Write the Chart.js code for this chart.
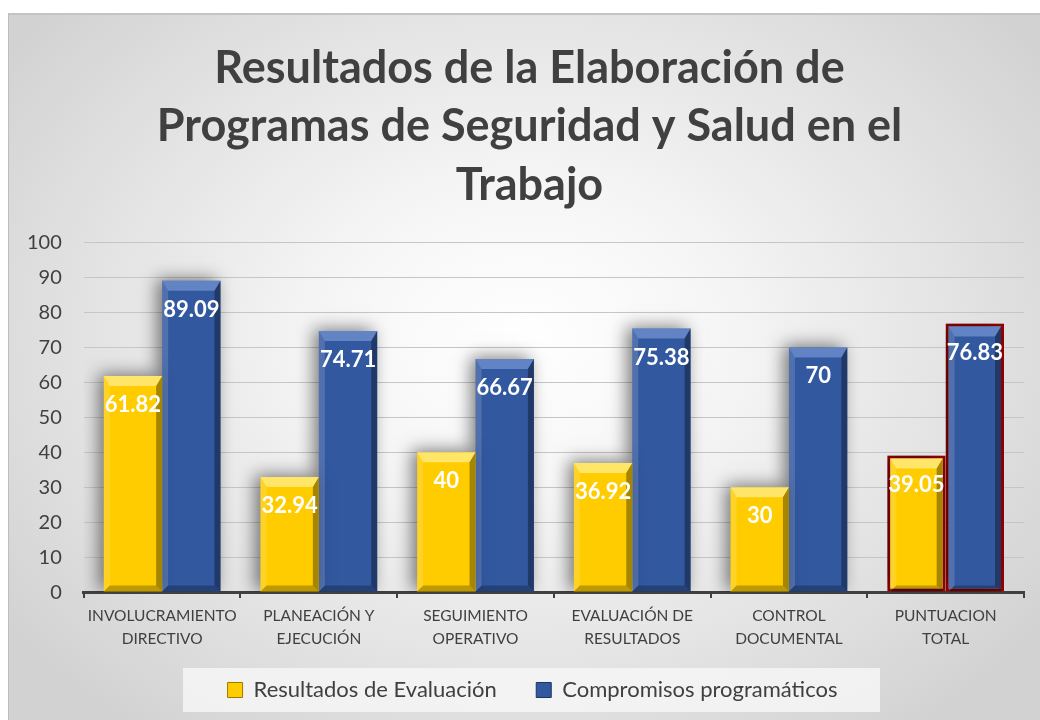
<!DOCTYPE html>
<html>
<head>
<meta charset="utf-8">
<script src="https://cdn.jsdelivr.net/npm/chart.js@4.4.0/dist/chart.umd.min.js"></script>
<style>
	html, body { margin: 0; padding: 0; background: #ffffff; }
	#frame {
		position: absolute;
		left: 8px;
		top: 13px;
		width: 1032px;
		height: 707px;
		border-left: 1px solid #bdbdbd;
		border-top: 2px solid #c4c4c4;
		box-sizing: border-box;
		background: radial-gradient(ellipse 62% 70% at 50% 46%, #ffffff 0%, #f6f6f6 30%, #e2e2e2 70%, #d2d2d2 100%);
	}
	#wrap { position: absolute; left: 0; top: 0; width: 1031px; height: 705px; }
</style>
</head>
<body>
<div id="frame"><div id="wrap"><canvas id="chart"></canvas></div></div>
<script>
const categories = [
	['INVOLUCRAMIENTO', 'DIRECTIVO'],
	['PLANEACIÓN Y', 'EJECUCIÓN'],
	['SEGUIMIENTO', 'OPERATIVO'],
	['EVALUACIÓN DE', 'RESULTADOS'],
	['CONTROL', 'DOCUMENTAL'],
	['PUNTUACION', 'TOTAL'],
]
const seriesNames = ['Resultados de Evaluación', 'Compromisos programáticos']
const resultados = [61.82, 32.94, 40, 36.92, 30, 39.05]
const compromisos = [89.09, 74.71, 66.67, 75.38, 70, 76.83]
const yTicks = [0, 10, 20, 30, 40, 50, 60, 70, 80, 90, 100]

const FONT = 'Lato, "Open Sans", sans-serif'
const TEXT = '#404040'
const YELLOW = '#FFCC00'
const BLUE = '#3258A0'
const RED = '#A00000'
const LEGEND_PAD = 23

// red outline only on the total group
const borderWidths = categories.map((c, i) => (i === categories.length - 1 ? 3 : 0))

// soft shadow behind the bars
const barShadow = {
	id: 'barShadow',
	beforeDatasetDraw(chart) {
		const ctx = chart.ctx
		ctx.save()
		ctx.shadowColor = 'rgba(0, 0, 0, 0.5)'
		ctx.shadowBlur = 16
		ctx.shadowOffsetX = -5
		ctx.shadowOffsetY = -2
	},
	afterDatasetDraw(chart) {
		chart.ctx.restore()
	},
}

// bevel edges + value labels
const bevelLabels = {
	id: 'bevelLabels',
	afterDatasetsDraw(chart) {
		const ctx = chart.ctx
		chart.data.datasets.forEach((ds, di) => {
			const meta = chart.getDatasetMeta(di)
			meta.data.forEach((bar, i) => {
				const bw = borderWidths[i]
				const l = bar.x - bar.width / 2 + bw
				const r = bar.x + bar.width / 2 - bw
				const t = bar.y + bw
				const b = bar.base
				const s = 6
				const tb = 10
				ctx.save()
				// top bevel
				ctx.fillStyle = di === 0 ? 'rgba(255, 250, 190, 0.55)' : 'rgba(140, 170, 225, 0.55)'
				ctx.beginPath()
				ctx.moveTo(l, t); ctx.lineTo(r, t); ctx.lineTo(r - s, t + tb); ctx.lineTo(l + s, t + tb); ctx.closePath()
				ctx.fill()
				// left bevel
				ctx.fillStyle = 'rgba(255, 255, 255, 0.15)'
				ctx.beginPath()
				ctx.moveTo(l, t); ctx.lineTo(l + s, t + tb); ctx.lineTo(l + s, b - s); ctx.lineTo(l, b); ctx.closePath()
				ctx.fill()
				// right bevel
				ctx.fillStyle = 'rgba(0, 0, 0, 0.35)'
				ctx.beginPath()
				ctx.moveTo(r, t); ctx.lineTo(r - s, t + tb); ctx.lineTo(r - s, b - s); ctx.lineTo(r, b); ctx.closePath()
				ctx.fill()
				// bottom bevel
				ctx.fillStyle = 'rgba(0, 0, 0, 0.25)'
				ctx.beginPath()
				ctx.moveTo(l, b); ctx.lineTo(l + s, b - s); ctx.lineTo(r - s, b - s); ctx.lineTo(r, b); ctx.closePath()
				ctx.fill()
				// value
				ctx.fillStyle = '#ffffff'
				ctx.font = 'bold 22px ' + FONT
				ctx.textAlign = 'center'
				ctx.textBaseline = 'middle'
				ctx.fillText(String(ds.data[i]), bar.x, bar.y + 29)
				ctx.restore()
			})
		})
	},
}

// light panel behind the legend, title and legend nudged right like the original
const legendPanel = {
	id: 'legendPanel',
	afterLayout(chart) {
		const lg = chart.legend
		if (lg) {
			lg.left += 18
			lg.right += 18
		}
		const tb = chart.titleBlock
		if (tb) {
			tb.left += 15
			tb.right += 15
		}
	},
	beforeDraw(chart) {
		const lg = chart.legend
		if (!lg) return
		const ctx = chart.ctx
		ctx.save()
		ctx.fillStyle = 'rgba(246, 246, 246, 0.85)'
		ctx.fillRect(174, lg.top + LEGEND_PAD + 11 - 22, 697, 44)
		ctx.restore()
	},
}

new Chart(document.getElementById('chart').getContext('2d'), {
	type: 'bar',
	data: {
		labels: categories,
		datasets: [
			{
				label: seriesNames[0],
				data: resultados,
				backgroundColor: YELLOW,
				borderColor: RED,
				borderWidth: borderWidths,
				borderSkipped: false,
				categoryPercentage: 0.745,
				barPercentage: 1,
			},
			{
				label: seriesNames[1],
				data: compromisos,
				backgroundColor: BLUE,
				borderColor: RED,
				borderWidth: borderWidths,
				borderSkipped: false,
				categoryPercentage: 0.745,
				barPercentage: 1,
			},
		],
	},
	options: {
		responsive: true,
		maintainAspectRatio: false,
		animation: false,
		layout: {
			padding: { left: -4, right: 16, top: 0, bottom: 9 },
		},
		plugins: {
			title: {
				display: true,
				text: ['Resultados de la Elaboración de', 'Programas de Seguridad y Salud en el', 'Trabajo'],
				color: TEXT,
				font: { family: FONT, size: 45, weight: 'bold', lineHeight: 1.3 },
				padding: { top: 24, bottom: 28 },
			},
			legend: {
				position: 'bottom',
				labels: {
					color: TEXT,
					font: { family: FONT, size: 22 },
					boxWidth: 15,
					boxHeight: 15,
					padding: LEGEND_PAD,
					generateLabels(chart) {
						return chart.data.datasets.map((ds, i) => ({
							// em space after the first entry widens the gap between the two items
							text: i === 0 ? ds.label + '\u2003' : ds.label,
							fillStyle: ds.backgroundColor,
							strokeStyle: i === 0 ? '#9a7a00' : '#1d3466',
							lineWidth: 1,
							fontColor: TEXT,
							datasetIndex: i,
						}))
					},
				},
			},
			tooltip: { enabled: false },
		},
		scales: {
			x: {
				grid: {
					display: true,
					drawOnChartArea: false,
					drawTicks: true,
					tickLength: 6,
					color: '#404040',
					lineWidth: 2,
				},
				border: { display: true, color: '#404040', width: 3 },
				ticks: {
					color: TEXT,
					font: { family: FONT, size: 15.5, lineHeight: 1.48 },
					padding: 6,
					maxRotation: 0,
					autoSkip: false,
				},
			},
			y: {
				min: 0,
				max: 100,
				afterBuildTicks(axis) {
					axis.ticks = yTicks.map(v => ({ value: v }))
				},
				grid: {
					color: '#c6c6c6',
					lineWidth: 1,
					drawTicks: false,
				},
				border: { display: false },
				ticks: {
					color: TEXT,
					font: { family: FONT, size: 20 },
					padding: 22,
				},
			},
		},
	},
	plugins: [barShadow, bevelLabels, legendPanel],
})
</script>
</body>
</html>
